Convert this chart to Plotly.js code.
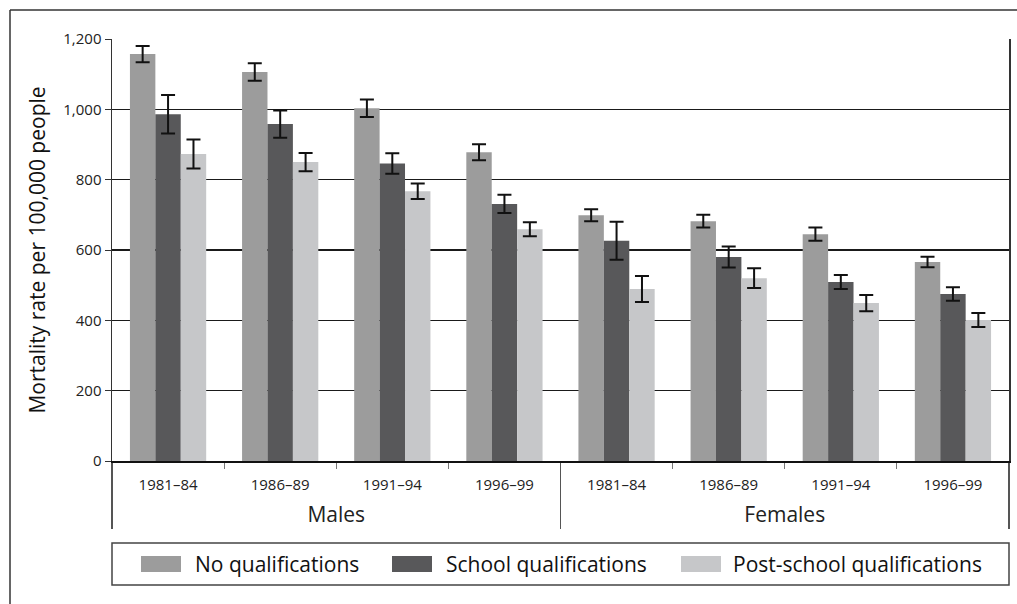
<!DOCTYPE html>
<html>
<head>
<meta charset="utf-8">
<script src="https://cdn.plot.ly/plotly-3.0.1.min.js"></script>
<style>html,body{margin:0;padding:0;background:#fff;}#chart{width:1017px;height:604px;}</style>
</head>
<body>
<div id="chart"></div>
<script>
// ---- Data ----
const groups = ['Males', 'Females'];
const periods = ['1981–84', '1986–89', '1991–94', '1996–99'];
const seriesNames = ['No qualifications', 'School qualifications', 'Post-school qualifications'];
const seriesColors = ['#9c9c9c', '#58585a', '#c6c7c9'];
const noQual      = [1157, 1106, 1003, 878, 699, 682, 645, 566];
const noQualErr   = [23, 25, 25, 23, 17, 18, 19, 15];
const school      = [986, 958, 846, 731, 626, 580, 509, 475];
const schoolErr   = [55, 39, 29, 26, 54, 30, 20, 19];
const postSchool  = [873, 850, 767, 659, 489, 520, 449, 401];
const postSchoolErr = [41, 26, 22, 20, 37, 28, 23, 20];
const yTicks = [0, 200, 400, 600, 800, 1000, 1200];

// multicategory x built from groups and periods
const outer = [], inner = [];
groups.forEach(g => periods.forEach(p => {
  outer.push('<br><span style="font-size:21px">' + g + '</span>');
  inner.push(p);
}));

const values = [noQual, school, postSchool];
const errs = [noQualErr, schoolErr, postSchoolErr];

const traces = values.map((v, i) => ({
  type: 'bar',
  name: seriesNames[i],
  x: [outer, inner],
  y: v,
  marker: {color: seriesColors[i], line: {width: 0}},
  error_y: {type: 'data', array: errs[i], visible: true, color: '#111', thickness: 2, width: 7},
  showlegend: false,
  hoverinfo: 'y'
}));

// ---- Manual legend (large swatches as in the reference) ----
const W = 897, H = 422; // plot area size in px
const px = x => (x - 112) / W;
const py = y => (461 - y) / H;
const swatchX = [141, 392, 681];
const textX = [193, 444, 731];
const shapes = [
  // outer frame (top & left)
  {type: 'line', xref: 'paper', yref: 'paper', x0: px(10), x1: px(1030), y0: py(10), y1: py(10), line: {color: '#333', width: 1.5}},
  {type: 'line', xref: 'paper', yref: 'paper', x0: px(10), x1: px(10), y0: py(10), y1: py(620), line: {color: '#333', width: 1.5}},
  // legend box
  {type: 'rect', xref: 'paper', yref: 'paper', x0: px(112), x1: px(1009), y0: py(543), y1: py(585), line: {color: '#444', width: 1.5}, fillcolor: 'rgba(0,0,0,0)'}
];
const annotations = [];
seriesNames.forEach((n, i) => {
  shapes.push({type: 'rect', xref: 'paper', yref: 'paper', x0: px(swatchX[i]), x1: px(swatchX[i] + 40),
    y0: py(556), y1: py(572), line: {width: 0}, fillcolor: seriesColors[i]});
  annotations.push({xref: 'paper', yref: 'paper', x: px(textX[i]), y: py(564), xanchor: 'left', yanchor: 'middle',
    text: n, showarrow: false, font: {size: 21, color: '#111'}});
});

const layout = {
  width: 1017, height: 604,
  margin: {l: 112, r: 8, t: 39, b: 143, pad: 0},
  paper_bgcolor: '#fff', plot_bgcolor: '#fff',
  font: {family: 'Open Sans, Noto Sans, sans-serif', color: '#111'},
  barmode: 'group', bargap: 0.32, bargroupgap: 0,
  showlegend: false,
  xaxis: {
    type: 'multicategory',
    showline: true, linecolor: '#111', linewidth: 1.5,
    ticks: 'outside', ticklen: 6, tickcolor: '#777', tickwidth: 1,
    ticklabelstandoff: 9,
    showdividers: true, dividercolor: '#555', dividerwidth: 1.5,
    tickfont: {size: 15, color: '#222'},
    showgrid: false, zeroline: false
  },
  yaxis: {
    range: [0, 1200], tickvals: yTicks, tickformat: ',d',
    showline: true, linecolor: '#333', linewidth: 1.5, mirror: true,
    ticks: 'outside', ticklen: 6, tickcolor: '#333',
    showgrid: true, gridcolor: '#1a1a1a', gridwidth: 1.2,
    zeroline: false,
    tickfont: {size: 15, color: '#222'},
    title: {text: 'Mortality rate per 100,000 people', font: {size: 21, color: '#111'}, standoff: 12}
  },
  shapes: shapes,
  annotations: annotations
};

Plotly.newPlot('chart', traces, layout, {displayModeBar: false, staticPlot: true});
</script>
</body>
</html>
